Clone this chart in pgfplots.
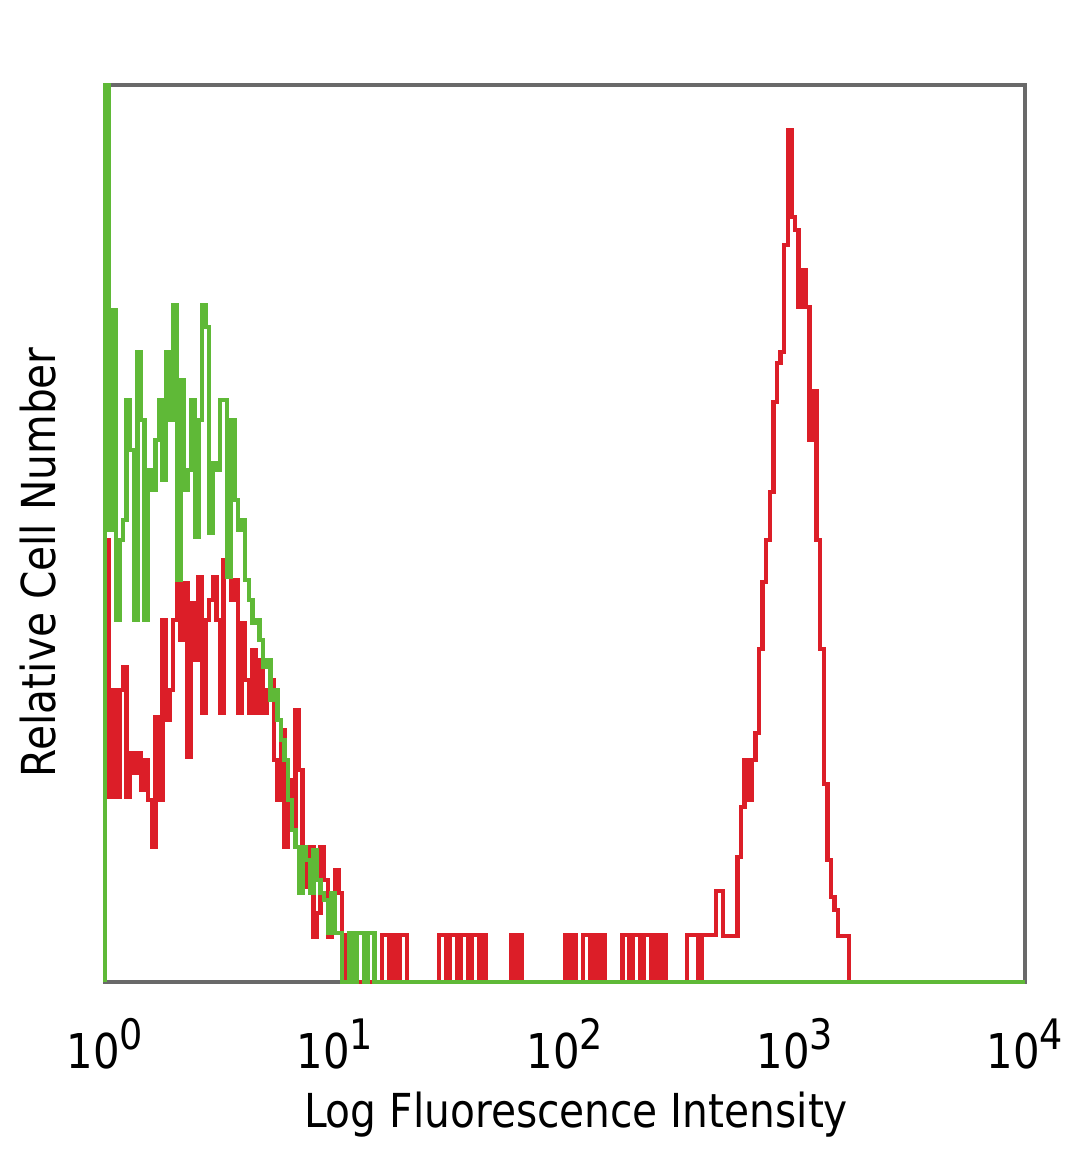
\documentclass[border=0pt]{standalone}
\usepackage{fontspec}
\setmainfont{DejaVu Sans}[FakeStretch=0.87]
\usepackage{pgfplots}
\pgfplotsset{compat=1.18}
\definecolor{framegray}{RGB}{105,105,105}
\definecolor{histgreen}{RGB}{95,185,55}
\definecolor{histred}{RGB}{220,30,40}
\newcommand{\dec}[1]{10\raisebox{4.6pt}{\fontsize{10.5}{10.5}\selectfont #1}}
\begin{document}
\begin{tikzpicture}
\useasboundingbox (-26.25pt,-46.75pt) rectangle (243.75pt,245.5pt);
\begin{axis}[
  at={(0,0)}, anchor=south west,
  width=230pt, height=224.25pt, scale only axis,
  xmin=0, xmax=256, ymin=0, ymax=897,
  xtick={0,64,128,192,256},
  xticklabels={\dec{0},\dec{1},\dec{2},\dec{3},\dec{4}},
  ytick=\empty,
  major tick length=0pt,
  axis line style={draw=framegray, line width=0.8pt},
  tick label style={font=\fontsize{12}{14}\selectfont},
  xticklabel style={anchor=base, yshift=-21.5pt},
  xlabel={Log Fluorescence Intensity},
  ylabel={Relative Cell Number},
  label style={font=\fontsize{11.7}{13}\selectfont},
  xlabel style={at={(axis description cs:0.512,-0.162)}, anchor=base},
  ylabel style={at={(axis description cs:-0.054,0.468)}, anchor=base},
  clip=false,
]
\addplot[histred, line width=1.1pt, const plot mark left] coordinates {
(0,0)(0,442)(1,185)(2,292)(3,185)(4,292)(5,315)(6,185)(7,229)(8,209)(9,229)(10,192)(11,222)(12,182)(13,135)(14,265)(15,182)(16,362)(17,262)(18,292)(19,362)(20,399)(21,342)(22,399)(23,225)(24,379)(25,322)(26,405)(27,269)(28,362)(29,382)(30,405)(31,362)(32,269)(33,422)(34,449)(35,382)(36,402)(37,269)(38,359)(39,302)(40,269)(41,332)(42,269)(43,322)(44,269)(45,292)(46,302)(47,222)(48,182)(49,252)(50,135)(51,202)(52,152)(53,272)(54,212)(55,135)(56,95)(57,135)(58,45)(59,69)(60,135)(61,102)(62,45)(63,89)(64,112)(65,89)(66,47)(67,0)(68,47)(70,0)(77,47)(79,0)(80,47)(81,0)(82,47)(84,0)(93,47)(95,0)(96,47)(98,0)(99,47)(101,0)(102,47)(104,0)(105,47)(106,0)(113,47)(114,0)(115,47)(116,0)(128,47)(129,0)(130,47)(131,0)(133,47)(135,0)(136,47)(137,0)(138,47)(139,0)(144,47)(146,0)(147,47)(149,0)(150,47)(152,0)(153,47)(154,0)(155,47)(156,0)(162,47)(165,0)(166,47)(170,91)(172,46)(176,125)(177,175)(178,222)(179,182)(180,222)(181,249)(182,333)(183,400)(184,442)(185,490)(186,580)(187,619)(188,630)(189,737)(190,852)(191,765)(192,752)(193,675)(194,712)(195,675)(196,542)(197,591)(198,442)(199,333)(200,198)(201,122)(202,85)(203,72)(204,46)(207,0)(256,0)
};
\addplot[histgreen, line width=1.1pt, const plot mark left] coordinates {
(0,0)(0,897)(1,452)(2,672)(3,362)(4,442)(5,462)(6,582)(7,532)(8,362)(9,630)(10,562)(11,362)(12,512)(13,492)(14,542)(15,582)(16,502)(17,630)(18,562)(19,677)(20,402)(21,602)(22,492)(23,512)(24,582)(25,445)(26,562)(27,677)(28,655)(29,449)(30,519)(31,512)(32,582)(33,582)(34,405)(35,562)(36,482)(37,452)(38,462)(39,402)(40,382)(41,359)(42,362)(43,342)(44,315)(45,322)(46,282)(47,292)(48,262)(49,242)(50,222)(51,182)(52,152)(53,135)(54,89)(55,135)(56,122)(57,89)(58,132)(59,102)(60,89)(61,82)(62,49)(63,89)(64,49)(66,0)(68,49)(69,0)(70,49)(72,0)(73,49)(75,0)(256,0)
};
\end{axis}
\end{tikzpicture}
\end{document}
